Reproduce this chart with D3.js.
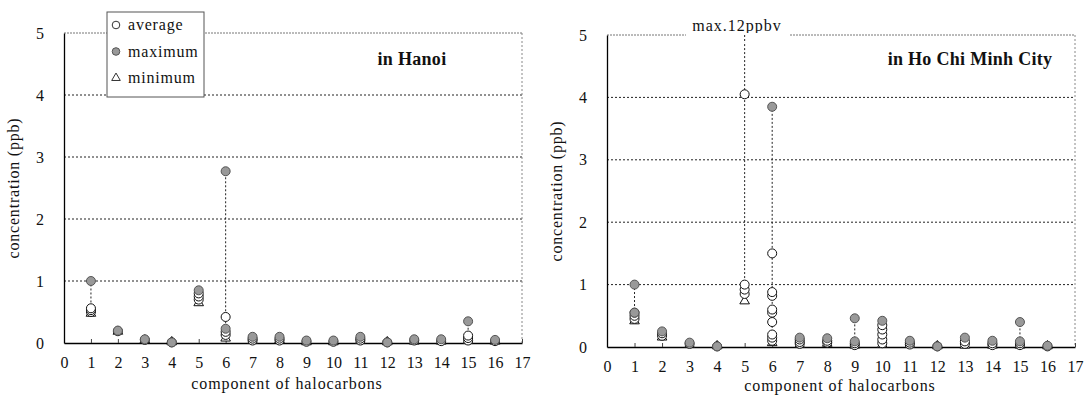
<!DOCTYPE html>
<html><head><meta charset="utf-8">
<script src="https://cdn.jsdelivr.net/npm/d3@7"></script>
<style>
body{margin:0;background:#fff;}
svg text{font-family:"Liberation Serif","Times New Roman",Times,"DejaVu Serif",serif !important;}
</style></head>
<body><svg id="c" width="1084" height="397"></svg>
<script>
// ---- data ----
const components = d3.range(1, 17);
const xTicks = d3.range(0, 18);
const yTicks = [0, 1, 2, 3, 4, 5];

const hanoiMax = [[1.0],[0.2],[0.06],[0.01],[0.85],[2.77,0.23],[0.1],[0.1],[0.04],[0.04],[0.1],[0.01],[0.06],[0.06],[0.35],[0.05]];
const hanoiAvg = [[0.56,0.53,0.5],[0.19],[0.05],[0.01],[0.8,0.75,0.7],[0.42,0.18,0.13],[0.07,0.04],[0.07,0.04],[0.02],[0.02],[0.07,0.04],[0.01],[0.04],[0.03],[0.12,0.08,0.04],[0.03]];
const hanoiMin = [0.46,0.17,0.03,0.0,0.63,0.06,0.02,0.03,0.0,0.0,0.02,0.0,0.01,0.01,0.02,0.01];

const hcmMax = [[1.0,0.55],[0.25],[0.07],[0.01],[12],[3.85],[0.15],[0.14],[0.46,0.09],[0.42],[0.1],[0.01],[0.15],[0.1],[0.4,0.09],[0.02]];
const hcmAvg = [[0.55,0.5,0.45],[0.22,0.18],[0.05],[0.01],[4.05,1.0,0.92,0.85],[1.5,0.88,0.82,0.6,0.55,0.4,0.2,0.15,0.1],[0.12,0.08,0.05],[0.1,0.07],[0.06,0.03],[0.35,0.28,0.2,0.12,0.06],[0.07,0.04],[0.01],[0.09,0.05],[0.06,0.03],[0.06,0.03],[0.01]];
const hcmMin = [0.4,0.14,0.02,0.0,0.72,0.05,0.02,0.04,0.01,0.02,0.02,0.0,0.01,0.01,0.01,0.0];

const legendLabels = ["average", "maximum", "minimum"];
const yTitle = "concentration (ppb)";
const xTitle = "component of halocarbons";

const svg = d3.select("#c");
const tri = d3.symbol().type(d3.symbolTriangle).size(40);

function panel(cfg) {
  const x = d3.scaleLinear().domain([0, 17]).range([cfg.x0, cfg.x1]);
  const y = d3.scaleLinear().domain([0, 5]).range([cfg.y0, cfg.y1]);
  const g = svg.append("g");

  g.selectAll(".grid").data([1,2,3,4]).join("line")
    .attr("x1", cfg.x0).attr("x2", cfg.x1)
    .attr("y1", d => y(d)).attr("y2", d => y(d))
    .attr("stroke", "#222").attr("stroke-width", 1).attr("stroke-dasharray", "2,2");

  const topSegs = cfg.gap ? [[cfg.x0, cfg.gap[0]], [cfg.gap[1], cfg.x1]] : [[cfg.x0, cfg.x1]];
  topSegs.forEach(s => g.append("line").attr("x1", s[0]).attr("x2", s[1])
    .attr("y1", y(5)).attr("y2", y(5)).attr("stroke", "#777").attr("stroke-dasharray", "2,1"));
  g.append("line").attr("x1", cfg.x1).attr("x2", cfg.x1).attr("y1", y(5)).attr("y2", y(0))
    .attr("stroke", "#888").attr("stroke-dasharray", "2,2");

  const xa = d3.axisBottom(x).tickValues(xTicks).tickSizeInner(-4).tickSizeOuter(0).tickPadding(14).tickFormat(d3.format("d"));
  const xg = g.append("g").attr("transform", `translate(0,${y(0)})`).call(xa);
  xg.attr("font-family", null);
  xg.select(".domain").attr("stroke", "#000").attr("stroke-width", 1.3);
  xg.selectAll(".tick line").attr("stroke", "#444");
  xg.selectAll(".tick text").attr("font-size", 16).attr("fill", "#111");

  const ya = d3.axisLeft(y).tickValues(yTicks).tickSize(0).tickPadding(20).tickFormat(d3.format("d"));
  const yg = g.append("g").attr("transform", `translate(${cfg.x0},0)`).call(ya);
  yg.attr("font-family", null);
  yg.select(".domain").attr("stroke", "#000").attr("stroke-width", 1.3);
  yg.selectAll(".tick text").attr("font-size", 16).attr("fill", "#111");

  g.append("text").attr("transform", `translate(${cfg.x0 - 45},${(y(0)+y(5))/2}) rotate(-90)`)
    .attr("text-anchor", "middle").attr("font-size", 16).attr("letter-spacing", 0.8).attr("fill", "#111").text(yTitle);
  g.append("text").attr("x", (cfg.x0 + cfg.x1) / 2 + cfg.xtDx).attr("y", y(0) + cfg.xtY)
    .attr("text-anchor", "middle").attr("font-size", 16).attr("letter-spacing", 0.9).attr("fill", "#111").text(xTitle);

  components.forEach((c, i) => {
    const hi = Math.min(d3.max(cfg.max[i]), 5);
    const lo = cfg.min[i];
    g.append("line").attr("x1", x(c)).attr("x2", x(c))
      .attr("y1", y(lo)).attr("y2", hi >= 5 ? y(5) + 7 : y(hi))
      .attr("stroke", "#222").attr("stroke-dasharray", "2,2");
  });

  components.forEach((c, i) => {
    g.append("path").attr("d", tri).attr("transform", `translate(${x(c)},${y(cfg.min[i]) - 1})`)
      .attr("fill", "#fff").attr("stroke", "#111");
    cfg.avg[i].slice().reverse().forEach(v => {
      g.append("circle").attr("cx", x(c)).attr("cy", y(v)).attr("r", 4.5)
        .attr("fill", "#fff").attr("stroke", "#111");
    });
    cfg.max[i].forEach(v => {
      if (v > 5) return;
      g.append("circle").attr("cx", x(c)).attr("cy", y(v)).attr("r", 4.5)
        .attr("fill", "#999").attr("stroke", "#555");
    });
  });

  g.append("text").attr("x", cfg.titleX).attr("y", 65).attr("text-anchor", "middle")
    .attr("font-size", 18).attr("font-weight", "bold").attr("letter-spacing", 0.3).attr("fill", "#111").text(cfg.title);
  return {x, y, g};
}

panel({x0: 64, x1: 522, y0: 343, y1: 33, max: hanoiMax, avg: hanoiAvg, min: hanoiMin,
  title: "in Hanoi", titleX: 412, xtY: 46, xtDx: -6});
const p2 = panel({x0: 607, x1: 1075, y0: 347, y1: 35, max: hcmMax, avg: hcmAvg, min: hcmMin,
  title: "in Ho Chi Minh City", titleX: 970, xtY: 44, xtDx: -1});

p2.g.append("text").attr("x", 737).attr("y", 31).attr("text-anchor", "middle")
  .attr("font-size", 16).attr("letter-spacing", 1).attr("fill", "#111").text("max." + d3.max(hcmMax[4]) + "ppbv");
// white-out the border behind the label
p2.g.insert("rect", ":first-child").attr("x", 0).attr("y", 0).attr("width", 0).attr("height", 0);
p2.g.append("rect").attr("x", 686).attr("y", p2.y(5) - 2).attr("width", 104).attr("height", 4).attr("fill", "#fff");
p2.g.append("line").attr("x1", p2.x(5)).attr("x2", p2.x(5)).attr("y1", p2.y(5) - 0).attr("y2", p2.y(5) + 7)
  .attr("stroke", "#222").attr("stroke-dasharray", "2,2");

const lg = svg.append("g").attr("transform", "translate(107,12)");
lg.append("rect").attr("width", 97).attr("height", 85).attr("fill", "#fff").attr("stroke", "#555");
legendLabels.forEach((t, i) => {
  const yy = 13 + i * 26.5;
  if (i === 0) lg.append("circle").attr("cx", 9).attr("cy", yy).attr("r", 3.8).attr("fill", "#fff").attr("stroke", "#333");
  if (i === 1) lg.append("circle").attr("cx", 9).attr("cy", yy).attr("r", 3.8).attr("fill", "#999").attr("stroke", "#555");
  if (i === 2) lg.append("path").attr("d", d3.symbol().type(d3.symbolTriangle).size(32)).attr("transform", `translate(9,${yy})`)
    .attr("fill", "#fff").attr("stroke", "#333");
  lg.append("text").attr("x", 21).attr("y", yy + 5).attr("font-size", 16).attr("letter-spacing", 0.8).attr("fill", "#111").text(t);
});
</script></body></html>
